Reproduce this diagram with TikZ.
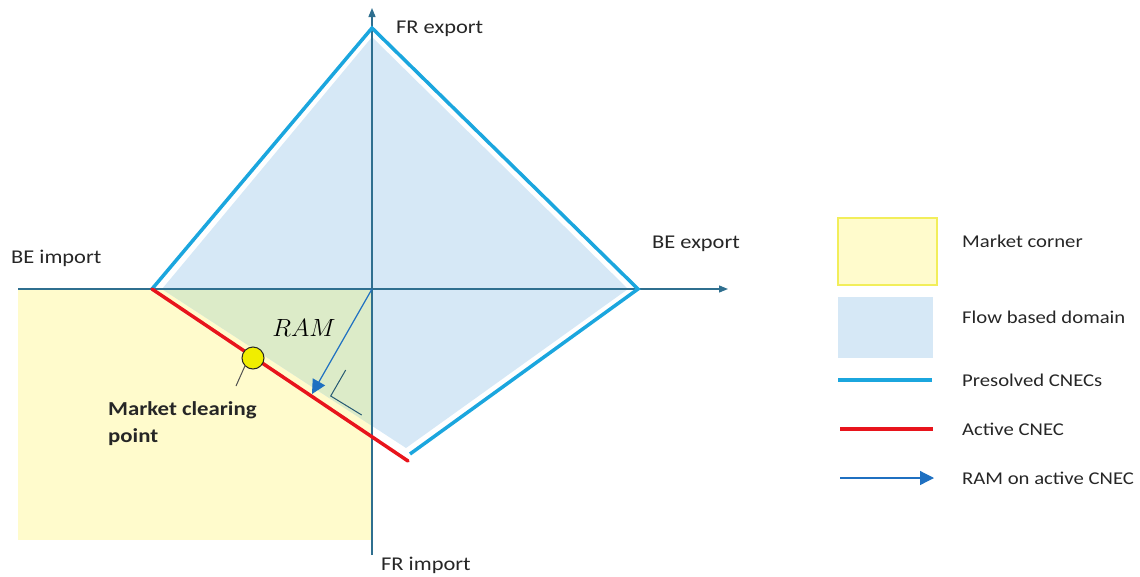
\documentclass[tikz,border=0pt]{standalone}
\usepackage{fontspec}
\setmainfont{Carlito}[FakeStretch=1.15]
\usetikzlibrary{arrows.meta}
\definecolor{axiscol}{HTML}{2F6F8F}
\definecolor{fbblue}{HTML}{D6E8F6}
\definecolor{mcyellow}{HTML}{FFFBCC}
\definecolor{mcgreen}{HTML}{DCEBC8}
\definecolor{cnecblue}{HTML}{1BA6DE}
\definecolor{cnecred}{HTML}{E8141C}
\definecolor{ramblue}{HTML}{1F70C1}
\definecolor{txt}{HTML}{262626}
\definecolor{legyellow}{HTML}{F2EE5A}
\begin{document}
\begin{tikzpicture}[x=1pt,y=-1pt,
  lbl/.style={font=\fontsize{19.5}{23}\selectfont, text=txt, anchor=west, inner sep=0pt},
  leglbl/.style={font=\fontsize{18}{21}\selectfont, text=txt, anchor=west, inner sep=0pt},
  axisline/.style={draw=axiscol, line width=1.3pt, -{Triangle[length=9pt,width=7pt]}},
  presolved/.style={draw=cnecblue, line width=3.5pt, line join=miter},
  active/.style={draw=cnecred, line width=3.5pt},
  ramarrow/.style={draw=ramblue, line width=1.2pt, -{Triangle[length=14pt,width=14pt]}}]
\useasboundingbox (0,0) rectangle (1140,576);
% coordinates
\coordinate (O) at (372,289);
\coordinate (L) at (152,289);
\coordinate (T) at (372,28);
\coordinate (R) at (638,289);
\coordinate (B) at (410,454);
\coordinate (Bred) at (408,461);
% market corner
\fill[mcyellow] (18,289) rectangle (372,540);
% flow based domain fill
\fill[fbblue] (162,289) -- (372,37) -- (628,289) -- (406,448) -- cycle;
\begin{scope}
\clip (18,289) rectangle (372,540);
\fill[mcgreen] (162,289) -- (372,37) -- (628,289) -- (406,448) -- cycle;
\end{scope}
% axes
\draw[axisline] (18,289) -- (728,289);
\draw[axisline] (372,555) -- (372,8);
% CNECs
\draw[presolved] (L) -- (T) -- (R) -- (B);
\draw[active, line cap=round] (L) -- (Bred);
% RAM arrow and right angle mark
\coordinate (Rtip) at (312,394);
\draw[ramarrow] (O) -- (Rtip);
\draw[draw=axiscol!80!black, line width=1pt] (345.7,370) -- (330.7,396) -- (361.7,415);
\node[inner sep=0pt] (ram) at (304,328) {\fontsize{26}{28}\selectfont $RAM$};
% market clearing point
\node[circle, minimum size=22pt, inner sep=0pt, fill={rgb,255:red,240;green,238;blue,0}, draw=txt, line width=1pt] (mcp) at (253,358) {};
\coordinate (mcpend) at (236,386);
\draw[draw=txt!80, line width=1pt] (mcp.225) -- (mcpend);
\node[lbl, font=\fontsize{19.8}{27}\selectfont\bfseries, align=left, anchor=north west] (mcptxt) at (108,401) {Market clearing\\point};
% axis labels
\node[lbl] (frexp) at (396,29) {FR export};
\node[lbl] (beimp) at (11,258) {BE import};
\node[lbl] (beexp) at (652,244) {BE export};
\node[lbl] (frimp) at (381,565) {FR import};
% legend
\node[draw=legyellow, line width=1.2pt, fill=mcyellow, minimum width=99pt, minimum height=67pt, inner sep=0pt] (legmc) at (887.5,251.5) {};
\node[fill=fbblue, minimum width=95pt, minimum height=61pt, inner sep=0pt] (legfb) at (885.5,327.5) {};
\coordinate (lp1) at (838,380); \coordinate (lp2) at (932,380);
\draw[presolved] (lp1) -- (lp2);
\coordinate (la1) at (840,429); \coordinate (la2) at (933,429);
\draw[active] (la1) -- (la2);
\coordinate (lr1) at (840,478); \coordinate (lr2) at (934,478);
\draw[ramarrow] (lr1) -- (lr2);
\node[leglbl] (t1) at (962,241) {Market corner};
\node[leglbl] (t2) at (962,317) {Flow based domain};
\node[leglbl] (t3) at (962,380) {Presolved CNECs};
\node[leglbl] (t4) at (962,429) {Active CNEC};
\node[leglbl] (t5) at (962,478) {RAM on active CNEC};
\end{tikzpicture}
\end{document}
